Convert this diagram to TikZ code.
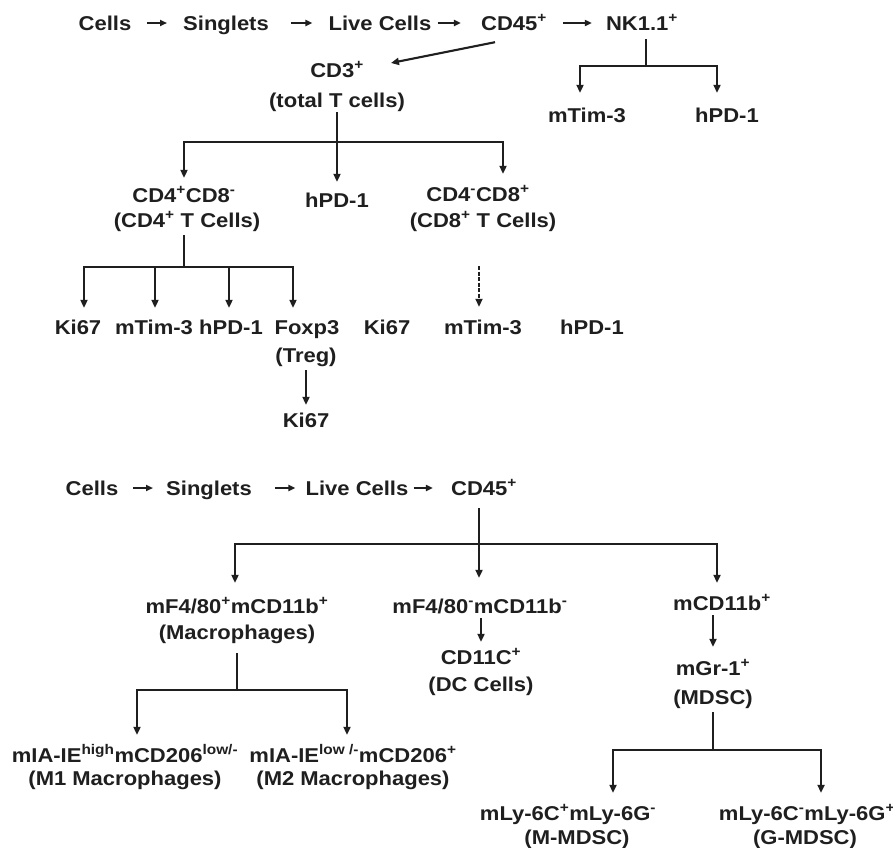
\documentclass[tikz,border=0pt]{standalone}
\usepackage{fontspec}
\setmainfont{Liberation Sans}[FakeStretch=1.1]
\usetikzlibrary{arrows.meta}
\newcommand{\supx}[1]{\textsuperscript{#1}}
\begin{document}
\begin{tikzpicture}[x=1pt,y=-1pt,
  t/.style={font=\bfseries\fontsize{20}{24}\selectfont, text height=14pt, text depth=0pt, inner sep=0pt, text=black!88},
  ln/.style={draw=black!88, line width=2.1pt},
  arr/.style={ln, -{Triangle[length=8pt,width=7pt]}},
  harr/.style={draw=black!88, line width=1.8pt, -{Triangle[length=7pt,width=6pt]}},
  dsh/.style={dash pattern=on 4pt off 1.5pt}]
\useasboundingbox (0,0) rectangle (893,847);
\fill[white] (0,0) rectangle (893,847);
% ---------- top panel ----------
\node[t] (c1) at (105,23) {Cells};
\node[t] (s1) at (226,23) {Singlets};
\node[t] (l1) at (380,23) {Live Cells};
\node[t] (cd45a) at (514,23) {CD45\supx{+}};
\node[t] (nk) at (642,23) {NK1.1\supx{+}};
\draw[harr, shorten <=16pt, shorten >=16pt] (c1) -- (s1);
\draw[harr, shorten <=22pt, shorten >=16pt] (s1) -- (l1);
\draw[harr, shorten <=6pt, shorten >=20pt] (l1) -- (cd45a);
\draw[harr, shorten <=16pt, shorten >=14pt] (cd45a) -- (nk);

\node[t] (cd3) at (337,70) {CD3\supx{+}};
\node[t] (cd3b) at (337,100) {(total T cells)};
\draw[arr] ([shift={(-19,12)}]cd45a.south) -- ([shift={(27,-7)}]cd3.east);

\node[t] (mtimN) at (587,115) {mTim-3};
\node[t] (hpdN) at (727,115) {hPD-1};
\coordinate (j2) at (646,66);
\coordinate (j2L) at (580,66);
\coordinate (j2R) at (717,66);
\draw[ln, shorten <=9pt] (j2 |- nk.south) -- (j2);
\draw[arr, shorten >=15pt] (j2) -| (j2L |- mtimN.north);
\draw[arr, shorten >=15pt] (j2) -| (j2R |- hpdN.north);

\node[t] (cd4) at (184,195) {CD4\supx{+}CD8\supx{-}};
\node[t] (cd4b) at (187,220) {(CD4\supx{+} T Cells)};
\node[t] (hpdA) at (337,200) {hPD-1};
\node[t] (cd8) at (478,194) {CD4\supx{-}CD8\supx{+}};
\node[t] (cd8b) at (483,220) {(CD8\supx{+} T Cells)};
\coordinate (j1) at (337,142);
\coordinate (j1L) at (184,142);
\coordinate (j1R) at (503,142);
\draw[ln, shorten <=5pt] (cd3b.south) -- (j1);
\draw[arr, shorten >=10pt] (j1) -| (j1L |- cd4.north);
\draw[arr, shorten >=11pt] (j1) -- (hpdA.north);
\draw[arr, shorten >=13pt] (j1) -| (j1R |- cd8.north);

\node[t] (ki1) at (78,327) {Ki67};
\node[t] (mtim1) at (154,327) {mTim-3};
\node[t] (hpd1) at (231,327) {hPD-1};
\node[t] (foxp3) at (307,327) {Foxp3};
\node[t] (treg) at (306,355) {(Treg)};
\node[t] (ki3) at (306,420) {Ki67};
\node[t] (ki2) at (387,327) {Ki67};
\node[t] (mtim2) at (483,327) {mTim-3};
\node[t] (hpd2) at (592,327) {hPD-1};
\coordinate (j3) at (184,267);
\coordinate (b1) at (84,267);
\coordinate (b2) at (155,267);
\coordinate (b3) at (229,267);
\coordinate (b4) at (293,267);
\draw[ln, shorten <=8pt] (j3 |- cd4b.south) -- (j3);
\draw[arr, shorten >=12pt] (j3) -| (b1 |- ki1.north);
\draw[arr, shorten >=12pt] (j3) -| (b4 |- foxp3.north);
\draw[arr, shorten >=12pt] (b2) -- (b2 |- mtim1.north);
\draw[arr, shorten >=12pt] (b3) -- (b3 |- hpd1.north);
\draw[arr, shorten <=8pt, shorten >=8pt] (treg.south) -- (ki3.north);
\coordinate (dtop) at (479,266);
\draw[arr, dsh, line width=1.8pt, shorten >=13pt] (dtop) -- (dtop |- mtim2.north);

% ---------- bottom panel ----------
\node[t] (c2) at (92,488) {Cells};
\node[t] (s2) at (209,488) {Singlets};
\node[t] (l2) at (357,488) {Live Cells};
\node[t] (cd45b) at (484,488) {CD45\supx{+}};
\draw[harr, shorten <=15pt, shorten >=13pt] (c2) -- (s2);
\draw[harr, shorten <=23pt, shorten >=10pt] (s2) -- (l2);
\draw[harr, shorten <=5pt, shorten >=18pt] (l2) -- (cd45b);

\node[t] (mf1) at (237,606) {mF4/80\supx{+}mCD11b\supx{+}};
\node[t] (mf1b) at (237,632) {(Macrophages)};
\node[t] (mf2) at (480,606) {mF4/80\supx{-}mCD11b\supx{-}};
\node[t] (mcd) at (722,603) {mCD11b\supx{+}};
\coordinate (j4) at (479,544);
\coordinate (j4L) at (235,544);
\coordinate (j4R) at (717,544);
\draw[ln, shorten <=13pt] (j4 |- cd45b.south) -- (j4);
\draw[arr, shorten >=16pt] (j4) -| (j4L |- mf1.north);
\draw[arr, shorten >=21pt] (j4) -- (j4 |- mf2.north);
\draw[arr, shorten >=13pt] (j4) -| (j4R |- mcd.north);

\node[t] (cd11c) at (481,657) {CD11C\supx{+}};
\node[t] (dc) at (481,684) {(DC Cells)};
\draw[arr, shorten <=5pt, shorten >=8pt] (cd11c |- mf2.south) -- (cd11c.north);

\node[t] (mgr) at (713,668) {mGr-1\supx{+}};
\node[t] (mdsc) at (713,697) {(MDSC)};
\draw[arr, shorten <=5pt, shorten >=14pt] (mgr |- mcd.south) -- (mgr.north);

\node[t] (mly1) at (568,813) {mLy-6C\supx{+}mLy-6G\supx{-}};
\node[t] (mmdsc) at (577,837) {(M-MDSC)};
\node[t] (mly2) at (807,813) {mLy-6C\supx{-}mLy-6G\supx{+}};
\node[t] (gmdsc) at (805,837) {(G-MDSC)};
\coordinate (j5) at (713,750);
\coordinate (j5L) at (613,750);
\coordinate (j5R) at (821,750);
\draw[ln, shorten <=8pt] (mdsc.south) -- (j5);
\draw[arr, shorten >=13pt] (j5) -| (j5L |- mly1.north);
\draw[arr, shorten >=13pt] (j5) -| (j5R |- mly2.north);

\node[t] (mia1) at (125,755) {mIA-IE\supx{high}mCD206\supx{low/-}};
\node[t] (m1) at (125,778) {(M1 Macrophages)};
\node[t] (mia2) at (353,755) {mIA-IE\supx{low /-}mCD206\supx{+}};
\node[t] (m2) at (353,778) {(M2 Macrophages)};
\coordinate (j6) at (237,690);
\coordinate (j6L) at (137,690);
\coordinate (j6R) at (347,690);
\draw[ln, shorten <=14pt] (mf1b.south) -- (j6);
\draw[arr, shorten >=13pt] (j6) -| (j6L |- mia1.north);
\draw[arr, shorten >=13pt] (j6) -| (j6R |- mia2.north);
\end{tikzpicture}
\end{document}
